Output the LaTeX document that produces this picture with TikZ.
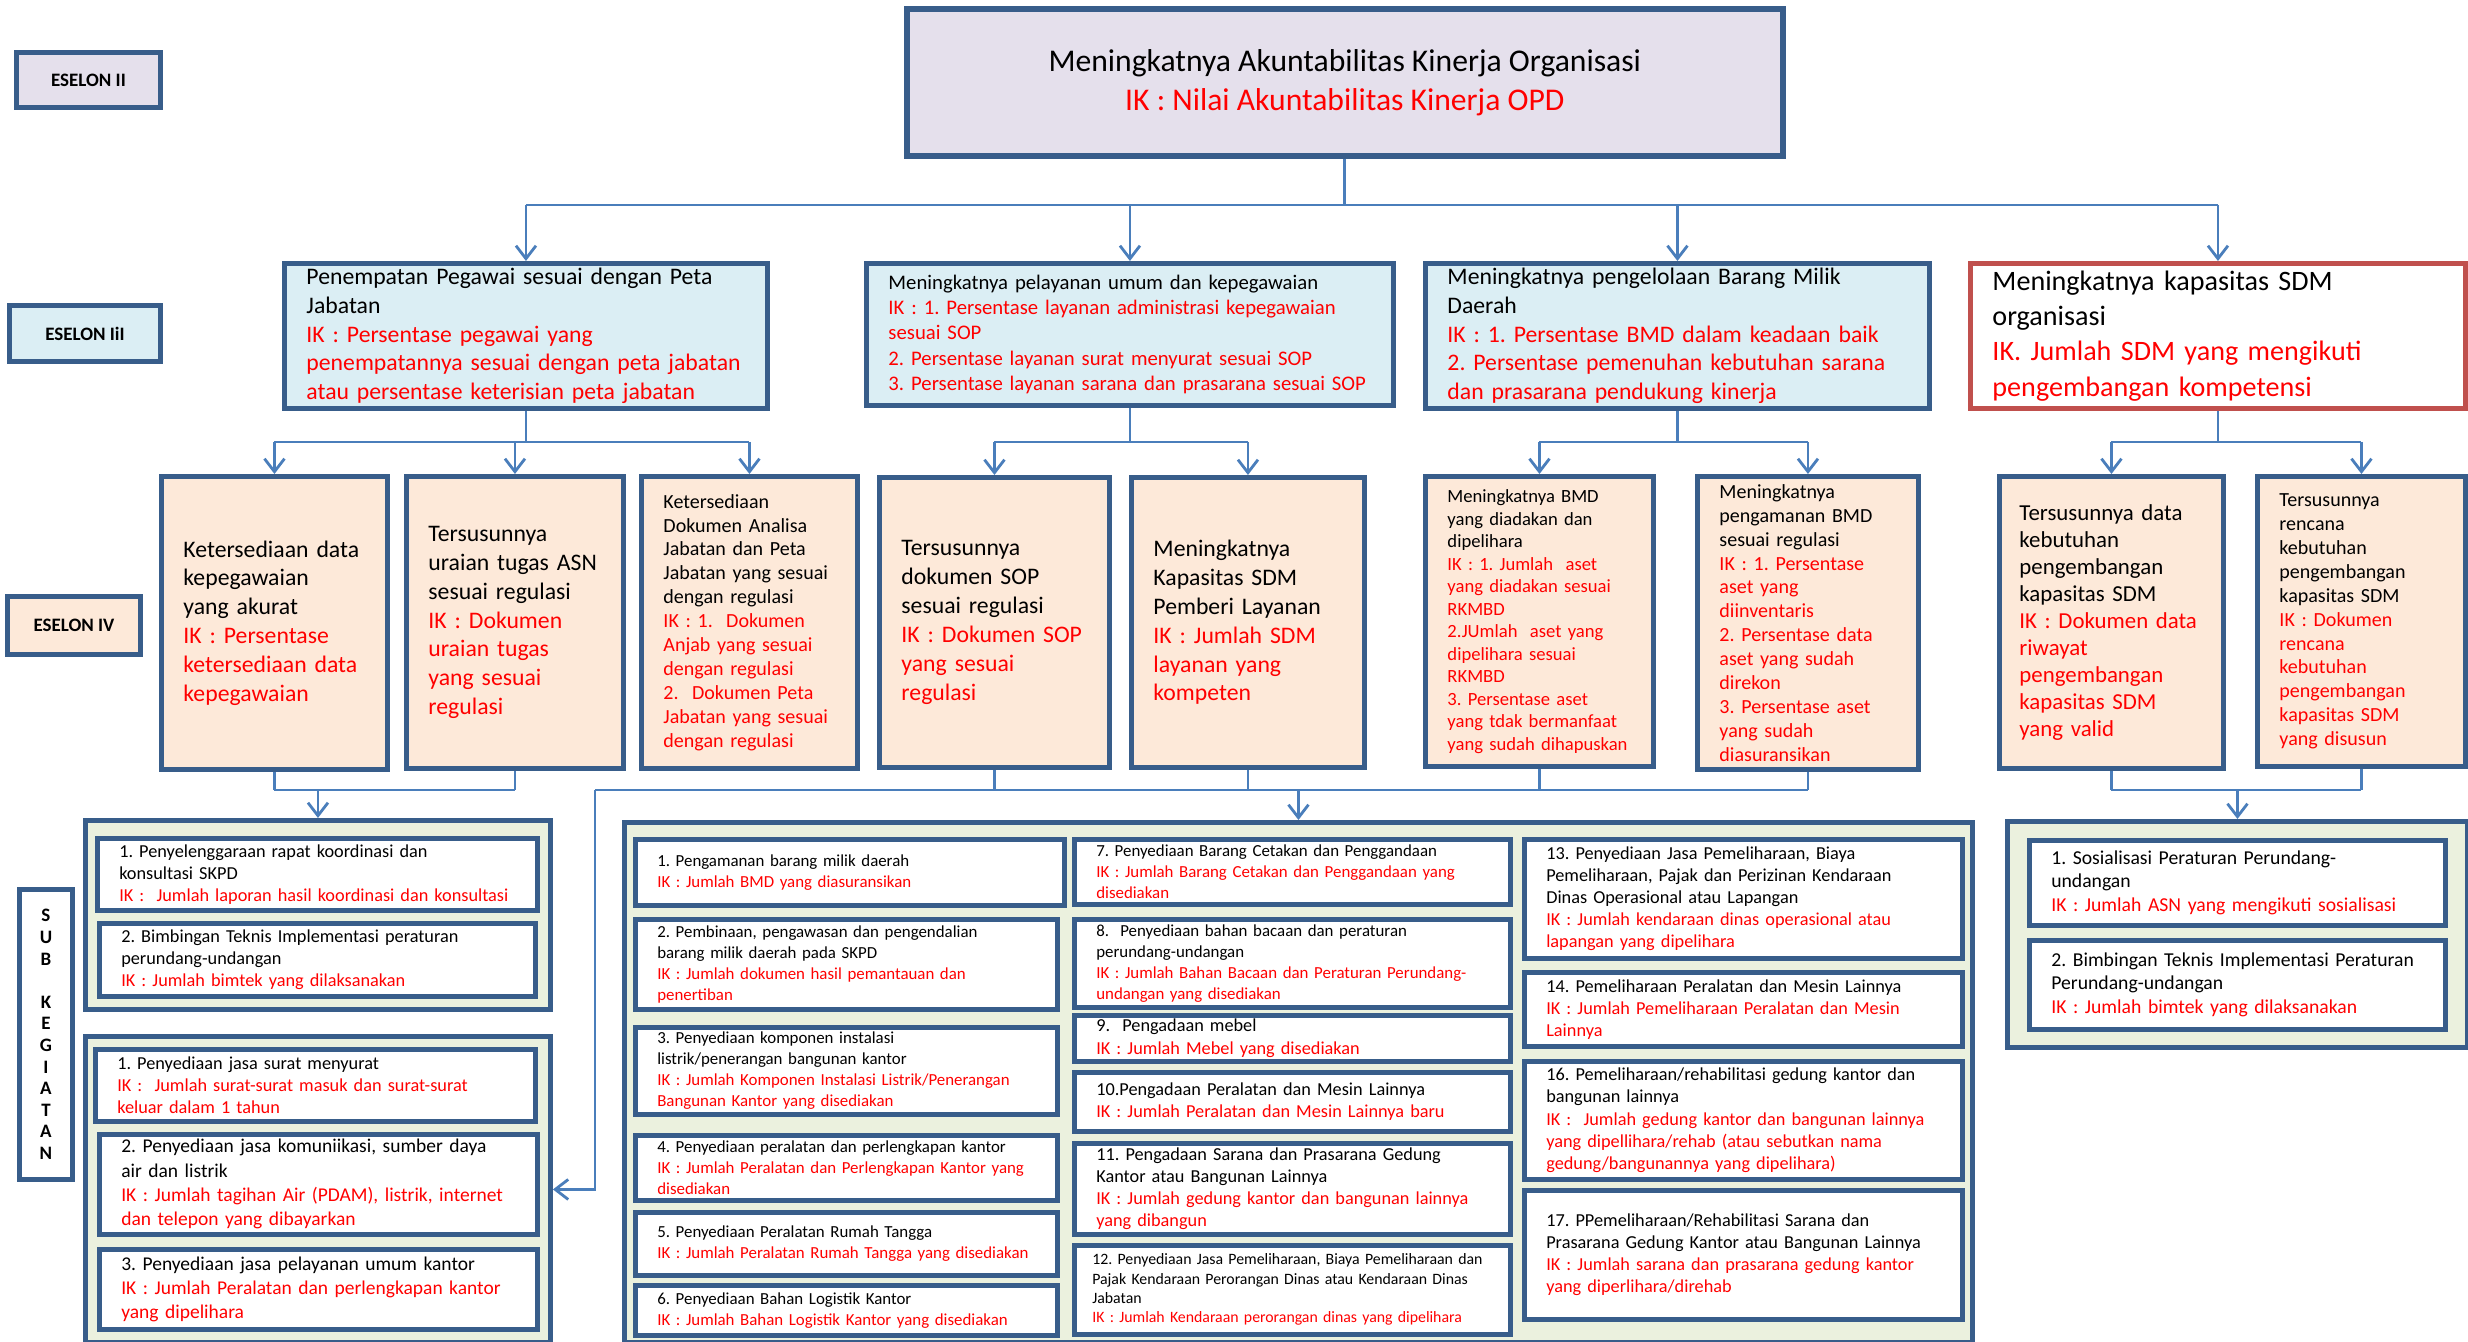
\documentclass[tikz,border=0pt]{standalone}
\usepackage{fontspec}
\setmainfont{Carlito}
\usetikzlibrary{arrows.meta}

\definecolor{bordblue}{RGB}{56,93,138}
\definecolor{linkblue}{RGB}{74,126,187}
\definecolor{lavfill}{RGB}{229,224,236}
\definecolor{bluefill}{RGB}{219,238,244}
\definecolor{peachfill}{RGB}{253,233,217}
\definecolor{greenfill}{RGB}{235,241,222}
\definecolor{redbord}{RGB}{192,80,77}
\definecolor{ikred}{RGB}{255,0,0}

% font sizes
\newcommand{\fTop}{\fontsize{9}{11.1}\selectfont}
\newcommand{\fTag}{\fontsize{5.4}{6.15}\selectfont}
\newcommand{\fA}{\fontsize{6.75}{8.2}\selectfont}
\newcommand{\fB}{\fontsize{5.9}{7.2}\selectfont}
\newcommand{\fD}{\fontsize{8}{10}\selectfont}
\newcommand{\fS}{\fontsize{5.7}{6.8}\selectfont}
\newcommand{\fBMD}{\fontsize{5.3}{6.4}\selectfont}
\newcommand{\fSDM}{\fontsize{6.5}{7.7}\selectfont}
\newcommand{\fKa}{\fontsize{4.8}{6}\selectfont}
\newcommand{\fKb}{\fontsize{5.2}{6.3}\selectfont}
\newcommand{\fKc}{\fontsize{5.55}{6.9}\selectfont}
\newcommand{\fKd}{\fontsize{4.5}{5.5}\selectfont}
\newcommand{\fKe}{\fontsize{5.6}{6.8}\selectfont}

\tikzset{
  kotak/.style={draw=bordblue, line width=1.4pt, anchor=north west, inner xsep=2.2mm, inner ysep=0pt, align=left},
  tujuan/.style={kotak, line width=1.6pt, fill=lavfill, align=center, font=\fTop},
  sasaran/.style={kotak, fill=bluefill},
  hasil/.style={kotak, fill=peachfill},
  wadah/.style={kotak, fill=greenfill, inner sep=0pt},
  subkeg/.style={kotak, line width=1.3pt, fill=white},
  eselon/.style={kotak, inner sep=0pt, align=center, font=\fTag\bfseries},
  garis/.style={draw=linkblue, line width=0.8pt},
  panah/.style={garis, -{Straight Barb[length=1.3mm,width=2mm]}},
}

\begin{document}
\frenchspacing
\begin{tikzpicture}[x=0.1mm, y=-0.1mm]
\useasboundingbox (0,0) rectangle (2468,1342);

% level labels
\node[eselon, fill=lavfill, minimum width=14.4mm, minimum height=5.5mm] (lab2) at (14,50) {ESELON II};
\node[eselon, fill=bluefill, minimum width=15.1mm, minimum height=5.6mm] (lab3) at (7,303) {ESELON IiI};
\node[eselon, fill=peachfill, minimum width=13.3mm, minimum height=5.8mm] (lab4) at (5,594) {ESELON IV};
\node[eselon, fill=white, minimum width=5.3mm, minimum height=29mm] (labsub) at (17,887) {S\\U\\B\\[6.15pt]K\\E\\G\\I\\A\\T\\A\\N};

% eselon II
\node[tujuan, minimum width=87.6mm, minimum height=14.7mm] (t0) at (904,6) {Meningkatnya Akuntabilitas Kinerja Organisasi\\\color{ikred}IK : Nilai Akuntabilitas Kinerja OPD};

% eselon III
\node[sasaran, font=\fA, minimum width=48.3mm, minimum height=14.5mm, text width=43.9mm] (p1) at (282,261) {Penempatan Pegawai sesuai dengan Peta\\Jabatan\\\color{ikred}IK : Persentase pegawai yang\\penempatannya sesuai dengan peta jabatan\\atau persentase keterisian peta jabatan};
\node[sasaran, font=\fB, minimum width=52.7mm, minimum height=14.2mm, text width=48.3mm] (p2) at (864,261) {Meningkatnya pelayanan umum dan kepegawaian\\\color{ikred}IK : 1. Persentase layanan administrasi kepegawaian\\sesuai SOP\\2. Persentase layanan surat menyurat sesuai SOP\\3. Persentase layanan sarana dan prasarana sesuai SOP};
\node[sasaran, font=\fA, minimum width=50.4mm, minimum height=14.5mm, text width=46mm] (p3) at (1423,261) {Meningkatnya pengelolaan Barang Milik\\Daerah\\\color{ikred}IK : 1. Persentase BMD dalam keadaan baik\\2. Persentase pemenuhan kebutuhan sarana\\dan prasarana pendukung kinerja};
\node[kotak, draw=redbord, fill=white, font=\fD, minimum width=49.5mm, minimum height=14.5mm, text width=45.1mm] (p4) at (1968,261) {Meningkatnya kapasitas SDM\\organisasi\\\color{ikred}IK. Jumlah SDM yang mengikuti\\pengembangan kompetensi};

% eselon IV
\node[hasil, font=\fA, minimum width=22.6mm, minimum height=29.3mm, text width=18.2mm] (k1) at (159,474) {Ketersediaan data\\kepegawaian\\yang akurat\\\color{ikred}IK : Persentase\\ketersediaan data\\kepegawaian};
\node[hasil, font=\fA, minimum width=21.7mm, minimum height=29.2mm, text width=17.3mm] (k2) at (404,474) {Tersusunnya\\uraian tugas ASN\\sesuai regulasi\\\color{ikred}IK : Dokumen\\uraian tugas\\yang sesuai\\regulasi};
\node[hasil, font=\fS, minimum width=21.6mm, minimum height=29.2mm, text width=17.2mm] (k3) at (639,474) {Ketersediaan\\Dokumen Analisa\\Jabatan dan Peta\\Jabatan yang sesuai\\dengan regulasi\\\color{ikred}IK : 1.\ \ Dokumen\\Anjab yang sesuai\\dengan regulasi\\2.\ \ Dokumen Peta\\Jabatan yang sesuai\\dengan regulasi};
\node[hasil, font=\fA, minimum width=23mm, minimum height=29mm, text width=18.6mm] (k4) at (877,475) {Tersusunnya\\dokumen SOP\\sesuai regulasi\\\color{ikred}IK : Dokumen SOP\\yang sesuai\\regulasi};
\node[hasil, font=\fA, minimum width=23.3mm, minimum height=29mm, text width=18.9mm] (k5) at (1129,475) {Meningkatnya\\Kapasitas SDM\\Pemberi Layanan\\\color{ikred}IK : Jumlah SDM\\layanan yang\\kompeten};
\node[hasil, font=\fBMD, minimum width=22.8mm, minimum height=29mm, text width=18.4mm] (k6) at (1423,474) {Meningkatnya BMD\\yang diadakan dan\\dipelihara\\\color{ikred}IK : 1. Jumlah\ \ aset\\yang diadakan sesuai\\RKMBD\\2.JUmlah\ \ aset yang\\dipelihara sesuai\\RKMBD\\3. Persentase aset\\yang tdak bermanfaat\\yang sudah dihapuskan};
\node[hasil, font=\fS, minimum width=22.1mm, minimum height=29.3mm, text width=17.7mm] (k7) at (1695,474) {Meningkatnya\\pengamanan BMD\\sesuai regulasi\\\color{ikred}IK : 1. Persentase\\aset yang\\diinventaris\\2. Persentase data\\aset yang sudah\\direkon\\3. Persentase aset\\yang sudah\\diasuransikan};
\node[hasil, font=\fSDM, inner xsep=2mm, minimum width=22.4mm, minimum height=29.2mm, text width=18.4mm] (k8) at (1997,474) {Tersusunnya data\\kebutuhan\\pengembangan\\kapasitas SDM\\\color{ikred}IK : Dokumen data\\riwayat\\pengembangan\\kapasitas SDM\\yang valid};
\node[hasil, font=\fS, minimum width=20.8mm, minimum height=29mm, text width=16.4mm] (k9) at (2255,474) {Tersusunnya\\rencana\\kebutuhan\\pengembangan\\kapasitas SDM\\\color{ikred}IK : Dokumen\\rencana\\kebutuhan\\pengembangan\\kapasitas SDM\\yang disusun};

% sub kegiatan groups
\node[wadah, minimum width=46.5mm, minimum height=18.9mm] (g1) at (83,818) {};
\node[wadah, minimum width=46.5mm, minimum height=30.6mm] (g2) at (83,1034) {};
\node[wadah, minimum width=134.8mm, minimum height=52mm] (g3) at (622,820) {};
\node[wadah, minimum width=46mm, minimum height=22.6mm] (g4) at (2005,819) {};

% group 1
\node[subkeg, font=\fKb, minimum width=44mm, minimum height=7.2mm, text width=39.6mm] (s11) at (95,836) {1. Penyelenggaraan rapat koordinasi dan\\konsultasi SKPD\\\color{ikred}IK :\ \ Jumlah laporan hasil koordinasi dan konsultasi};
\node[subkeg, font=\fKb, minimum width=43.6mm, minimum height=7.3mm, text width=39.2mm] (s12) at (97,921) {2. Bimbingan Teknis Implementasi peraturan\\perundang-undangan\\\color{ikred}IK : Jumlah bimtek yang dilaksanakan};

% group 2
\node[subkeg, font=\fKb, minimum width=44mm, minimum height=7.2mm, text width=39.6mm] (s21) at (93,1047) {1. Penyediaan jasa surat menyurat\\\color{ikred}IK :\ \ Jumlah surat-surat masuk dan surat-surat\\keluar dalam 1 tahun};
\node[subkeg, font=\fKc, minimum width=43.8mm, minimum height=10mm, text width=39.4mm] (s22) at (97,1132) {2. Penyediaan jasa komuniikasi, sumber daya\\air dan listrik\\\color{ikred}IK : Jumlah tagihan Air (PDAM), listrik, internet\\dan telepon yang dibayarkan};
\node[subkeg, font=\fKc, minimum width=43.8mm, minimum height=8mm, text width=39.4mm] (s23) at (97,1247) {3. Penyediaan jasa pelayanan umum kantor\\\color{ikred}IK : Jumlah Peralatan dan perlengkapan kantor\\yang dipelihara};

% group 3, column 1
\node[subkeg, font=\fKa, minimum width=42.9mm, minimum height=6.6mm, text width=38.5mm] (m1) at (633,837) {1. Pengamanan barang milik daerah\\\color{ikred}IK : Jumlah BMD yang diasuransikan};
\node[subkeg, font=\fKa, minimum width=42.2mm, minimum height=9mm, text width=37.8mm] (m2) at (633,917) {2. Pembinaan, pengawasan dan pengendalian\\barang milik daerah pada SKPD\\\color{ikred}IK : Jumlah dokumen hasil pemantauan dan\\penertiban};
\node[subkeg, font=\fKa, minimum width=42.2mm, minimum height=8.7mm, text width=37.8mm] (m3) at (633,1025) {3. Penyediaan komponen instalasi\\listrik/penerangan bangunan kantor\\\color{ikred}IK : Jumlah Komponen Instalasi Listrik/Penerangan\\Bangunan Kantor yang disediakan};
\node[subkeg, font=\fKa, minimum width=42.2mm, minimum height=6.5mm, text width=37.8mm] (m4) at (633,1133) {4. Penyediaan peralatan dan perlengkapan kantor\\\color{ikred}IK : Jumlah Peralatan dan Perlengkapan Kantor yang\\disediakan};
\node[subkeg, font=\fKa, minimum width=42.2mm, minimum height=6.3mm, text width=37.8mm] (m5) at (633,1210) {5. Penyediaan Peralatan Rumah Tangga\\\color{ikred}IK : Jumlah Peralatan Rumah Tangga yang disediakan};
\node[subkeg, font=\fKa, minimum width=42.2mm, minimum height=5mm, text width=37.8mm] (m6) at (633,1283) {6. Penyediaan Bahan Logistik Kantor\\\color{ikred}IK : Jumlah Bahan Logistik Kantor yang disediakan};

% group 3, column 2
\node[subkeg, font=\fKa, minimum width=43.6mm, minimum height=6.5mm, text width=39.2mm] (m7) at (1072,837) {7. Penyediaan Barang Cetakan dan Penggandaan\\\color{ikred}IK : Jumlah Barang Cetakan dan Penggandaan yang\\disediakan};
\node[subkeg, font=\fKa, minimum width=43.6mm, minimum height=8.8mm, text width=39.2mm] (m8) at (1072,917) {8.\ \ Penyediaan bahan bacaan dan peraturan\\perundang-undangan\\\color{ikred}IK : Jumlah Bahan Bacaan dan Peraturan Perundang-\\undangan yang disediakan};
\node[subkeg, font=\fKb, minimum width=43.6mm, minimum height=4.6mm, text width=39.2mm] (m9) at (1072,1013) {9.\ \ Pengadaan mebel\\\color{ikred}IK : Jumlah Mebel yang disediakan};
\node[subkeg, font=\fKb, minimum width=43.6mm, minimum height=5.9mm, text width=39.2mm] (m10) at (1072,1070) {10.Pengadaan Peralatan dan Mesin Lainnya\\\color{ikred}IK : Jumlah Peralatan dan Mesin Lainnya baru};
\node[subkeg, font=\fKb, minimum width=43.6mm, minimum height=9.1mm, text width=39.2mm] (m11) at (1072,1141) {11. Pengadaan Sarana dan Prasarana Gedung\\Kantor atau Bangunan Lainnya\\\color{ikred}IK : Jumlah gedung kantor dan bangunan lainnya\\yang dibangun};
\node[subkeg, font=\fKd, inner xsep=1.8mm, minimum width=43.6mm, minimum height=8.9mm, text width=40mm] (m12) at (1072,1243) {12. Penyediaan Jasa Pemeliharaan, Biaya Pemeliharaan dan\\Pajak Kendaraan Perorangan Dinas atau Kendaraan Dinas\\Jabatan\\\color{ikred}IK : Jumlah Kendaraan perorangan dinas yang dipelihara};

% group 3, column 3
\node[subkeg, font=\fKb, minimum width=43.8mm, minimum height=11.9mm, text width=39.4mm] (m13) at (1522,837) {13. Penyediaan Jasa Pemeliharaan, Biaya\\Pemeliharaan, Pajak dan Perizinan Kendaraan\\Dinas Operasional atau Lapangan\\\color{ikred}IK : Jumlah kendaraan dinas operasional atau\\lapangan yang dipelihara};
\node[subkeg, font=\fKb, minimum width=43.8mm, minimum height=7.4mm, text width=39.4mm] (m14) at (1522,970) {14. Pemeliharaan Peralatan dan Mesin Lainnya\\\color{ikred}IK : Jumlah Pemeliharaan Peralatan dan Mesin\\Lainnya};
\node[subkeg, font=\fKb, minimum width=43.8mm, minimum height=11.8mm, text width=39.4mm] (m16) at (1522,1059) {16. Pemeliharaan/rehabilitasi gedung kantor dan\\bangunan lainnya\\\color{ikred}IK :\ \ Jumlah gedung kantor dan bangunan lainnya\\yang dipellihara/rehab (atau sebutkan nama\\gedung/bangunannya yang dipelihara)};
\node[subkeg, font=\fKb, minimum width=43.8mm, minimum height=12.9mm, text width=39.4mm] (m17) at (1522,1188) {17. PPemeliharaan/Rehabilitasi Sarana dan\\Prasarana Gedung Kantor atau Bangunan Lainnya\\\color{ikred}IK : Jumlah sarana dan prasarana gedung kantor\\yang diperlihara/direhab};

% group 4
\node[subkeg, font=\fKe, minimum width=41.6mm, minimum height=8.5mm, text width=37.2mm] (r1) at (2027,838) {1. Sosialisasi Peraturan Perundang-\\undangan\\\color{ikred}IK : Jumlah ASN yang mengikuti sosialisasi};
\node[subkeg, font=\fKe, minimum width=41.6mm, minimum height=8.9mm, text width=37.2mm] (r2) at (2027,938) {2. Bimbingan Teknis Implementasi Peraturan\\Perundang-undangan\\\color{ikred}IK : Jumlah bimtek yang dilaksanakan};

% bus levels
\coordinate (y1) at (0,205);
\coordinate (y2) at (0,442);
\coordinate (y3) at (0,790);
\coordinate (xv) at (595,0);

% eselon II to III
\draw[garis] (t0.south) -- (t0.south |- y1);
\draw[garis] (p1.north |- y1) -- (p4.north |- y1);
\draw[panah] (p1.north |- y1) -- (p1.north);
\draw[panah] (p2.north |- y1) -- (p2.north);
\draw[panah] (p3.north |- y1) -- (p3.north);
\draw[panah] (p4.north |- y1) -- (p4.north);

% eselon III to IV
\draw[garis] (p1.south) -- (p1.south |- y2);
\draw[garis] (k1.north |- y2) -- (k3.north |- y2);
\draw[panah] (k1.north |- y2) -- (k1.north);
\draw[panah] (k2.north |- y2) -- (k2.north);
\draw[panah] (k3.north |- y2) -- (k3.north);
\draw[garis] (p2.south) -- (p2.south |- y2);
\draw[garis] (k4.north |- y2) -- (k5.north |- y2);
\draw[panah] (k4.north |- y2) -- (k4.north);
\draw[panah] (k5.north |- y2) -- (k5.north);
\draw[garis] (p3.south) -- (p3.south |- y2);
\draw[garis] (k6.north |- y2) -- (k7.north |- y2);
\draw[panah] (k6.north |- y2) -- (k6.north);
\draw[panah] (k7.north |- y2) -- (k7.north);
\draw[garis] (p4.south) -- (p4.south |- y2);
\draw[garis] (k8.north |- y2) -- (k9.north |- y2);
\draw[panah] (k8.north |- y2) -- (k8.north);
\draw[panah] (k9.north |- y2) -- (k9.north);

% eselon IV to sub kegiatan
\draw[garis] (k1.south) -- (k1.south |- y3);
\draw[garis] (k2.south) -- (k2.south |- y3);
\draw[garis] (k1.south |- y3) -- (k2.south |- y3);
\draw[panah] (g1.north |- y3) -- (g1.north);
\draw[garis] (k4.south) -- (k4.south |- y3);
\draw[garis] (k5.south) -- (k5.south |- y3);
\draw[garis] (k6.south) -- (k6.south |- y3);
\draw[garis] (k7.south) -- (k7.south |- y3);
\draw[garis] (xv |- y3) -- (k7.south |- y3);
\draw[panah] (g3.north |- y3) -- (g3.north);
\draw[panah] (xv |- y3) -- (xv |- g2.east) -- (g2.east);
\draw[garis] (k8.south) -- (k8.south |- y3);
\draw[garis] (k9.south) -- (k9.south |- y3);
\draw[garis] (k8.south |- y3) -- (k9.south |- y3);
\draw[panah] (g4.north |- y3) -- (g4.north);
\end{tikzpicture}
\end{document}
